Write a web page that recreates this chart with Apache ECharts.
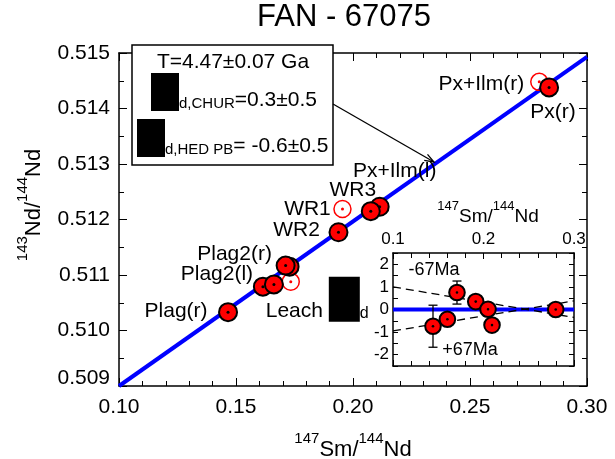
<!DOCTYPE html>
<html><head><meta charset="utf-8">
<script src="https://cdn.jsdelivr.net/npm/echarts@6/dist/echarts.min.js"></script>
<style>html,body{margin:0;padding:0;background:#fff}#c{width:615px;height:459px}</style>
</head><body><div id="c"></div>
<script>
// ---------------- data ----------------
const titleText = 'FAN - 67075';
// isochron (main panel)
const isoX = [0.10, 0.30];
const isoY = [0.509, 0.51493];
// filled (regression) points, drawn in this order
const filledLabels = ['Px(r)', 'Px+Ilm(l)', 'WR3', 'WR2', '', 'Plag2(r)', 'Plag2(l)', '', 'Plag(r)'];
const filledX = [0.2838, 0.2114, 0.2076, 0.1938, 0.1729, 0.1712, 0.1615, 0.1662, 0.1466];
const filledY = [0.51438, 0.51223, 0.51215, 0.51177, 0.51115, 0.51117, 0.51079, 0.51083, 0.51033];
// open (excluded) points
const openLabels = ['Px+Ilm(r)', 'WR1', 'Leach'];
const openX = [0.2796, 0.1955, 0.1734];
const openY = [0.51448, 0.51219, 0.51088];
// main axis ticks
const mainXTicks = [0.10, 0.15, 0.20, 0.25, 0.30];
const mainYTicks = [0.509, 0.510, 0.511, 0.512, 0.513, 0.514, 0.515];
// annotation text
const ageText = 'T=4.47±0.07 Ga';
const epsChurText = '=0.3±0.5';
const epsHedText = '= -0.6±0.5';
// inset: epsilon deviations
const insX = [0.1442, 0.1601, 0.1707, 0.1914, 0.2050, 0.2094, 0.2798];
const insY = [-0.74, -0.43, 0.75, 0.35, 0.01, -0.69, 0.00];
const errX = [0.1442, 0.1707];
const errLo = [-1.67, 0.24];
const errHi = [0.19, 1.26];
const zeroX = [0.1, 0.3];
const zeroY = [0, 0];
const dashX = [0.1, 0.3];
const dashMinusY = [1.0, -0.35];   // -67Ma
const dashPlusY = [-0.95, 0.38];   // +67Ma
const insXTicks = [0.1, 0.2, 0.3];
const insYTicks = [-2, -1, 0, 1, 2];

// ---------------- styles ----------------
const FONT = 'Liberation Sans';
const labelOffset = {
  'Px(r)': [4, 25], 'Px+Ilm(l)': [15, -36], 'WR3': [-18, -21], 'WR2': [-42, -2],
  'Plag2(r)': [-51, -11], 'Plag2(l)': [-46, -12], 'Plag(r)': [-52, -1],
  'Px+Ilm(r)': [-58, 2], 'WR1': [-35, 0]
};

const chart = echarts.init(document.getElementById('c'), null, {renderer: 'canvas'});

function near(a, b) { return Math.abs(a - b) < 1e-7; }

function pointRenderer(r, fill, stroke, lw, dotR, dotColor) {
  return function (params, api) {
    const p = api.coord([api.value(0), api.value(1)]);
    return {type: 'group', children: [
      {type: 'circle', shape: {cx: p[0], cy: p[1], r: r}, style: {fill: fill, stroke: stroke, lineWidth: lw}},
      {type: 'circle', shape: {cx: p[0], cy: p[1], r: dotR}, style: {fill: dotColor}}
    ]};
  };
}

const filledData = filledX.map((x, i) => [x, filledY[i]]);
const openData = openX.map((x, i) => [x, openY[i]]);
const labelData = [];
filledLabels.forEach((t, i) => { if (t) labelData.push([filledX[i], filledY[i], t]); });
openLabels.forEach((t, i) => { if (t) labelData.push([openX[i], openY[i], t]); });

const supRich = (big, small, rise) => ({
  b: {fontSize: big, fontFamily: FONT, color: '#000', verticalAlign: 'bottom', lineHeight: big + rise},
  s: {fontSize: small, fontFamily: FONT, color: '#000', verticalAlign: 'top', lineHeight: small + 1}
});
const ratioText = (a, b, c, d) => '{s|' + a + '}{b|' + b + '}{s|' + c + '}{b|' + d + '}';

const tickLine = {show: true, inside: true, length: 8, lineStyle: {color: '#000', width: 1}};
const minorLine = (n) => ({show: true, splitNumber: n, length: 5, lineStyle: {color: '#000', width: 1}});
const axLine = {show: true, onZero: false, lineStyle: {color: '#000', width: 1.5}};

const option = {
  backgroundColor: '#fff',
  animation: false,
  grid: [
    {left: 119, top: 53, width: 468, height: 333, outerBoundsMode: 'none', containLabel: false},
    {left: 393, top: 253, width: 181, height: 113, outerBoundsMode: 'none', containLabel: false}
  ],
  xAxis: [
    {gridIndex: 0, type: 'value', position: 'bottom', min: mainXTicks[0], max: mainXTicks[mainXTicks.length - 1],
     interval: 0.05, axisLine: axLine, axisTick: tickLine, minorTick: minorLine(5), splitLine: {show: false},
     axisLabel: {show: true, showMinLabel: true, showMaxLabel: true, hideOverlap: false, margin: 11,
       fontSize: 21, fontFamily: FONT, color: '#000', formatter: v => v.toFixed(2)}},
    {gridIndex: 0, type: 'value', position: 'top', min: 0.1, max: 0.3, interval: 0.05,
     axisLine: axLine, axisTick: tickLine, minorTick: minorLine(5), splitLine: {show: false}, axisLabel: {show: false}},
    {gridIndex: 1, type: 'value', position: 'top', min: insXTicks[0], max: insXTicks[insXTicks.length - 1], interval: 0.1,
     axisLine: axLine, axisTick: {show: true, inside: true, length: 6, lineStyle: {color: '#000'}},
     minorTick: {show: true, splitNumber: 5, length: 5, lineStyle: {color: '#000'}}, splitLine: {show: false},
     axisLabel: {show: true, showMinLabel: true, showMaxLabel: true, hideOverlap: false, margin: 5,
       fontSize: 17, fontFamily: FONT, color: '#000', formatter: v => v.toFixed(1)}},
    {gridIndex: 1, type: 'value', position: 'bottom', min: 0.1, max: 0.3, interval: 0.1,
     axisLine: axLine, axisTick: {show: true, inside: true, length: 6, lineStyle: {color: '#000'}},
     minorTick: {show: true, splitNumber: 5, length: 5, lineStyle: {color: '#000'}}, splitLine: {show: false}, axisLabel: {show: false}}
  ],
  yAxis: [
    {gridIndex: 0, type: 'value', position: 'left', min: mainYTicks[0], max: mainYTicks[mainYTicks.length - 1], interval: 0.001,
     axisLine: axLine, axisTick: tickLine, minorTick: minorLine(2), splitLine: {show: false},
     axisLabel: {show: true, showMinLabel: true, showMaxLabel: true, hideOverlap: false, margin: 9,
       fontSize: 21, fontFamily: FONT, color: '#000',
       formatter: v => near(v, mainYTicks[0]) ? '{lo|' + v.toFixed(3) + '}' : v.toFixed(3),
       rich: {lo: {fontSize: 21, fontFamily: FONT, color: '#000', padding: [0, 0, 16, 0]}}}},
    {gridIndex: 0, type: 'value', position: 'right', min: 0.509, max: 0.515, interval: 0.001,
     axisLine: axLine, axisTick: tickLine, minorTick: minorLine(2), splitLine: {show: false}, axisLabel: {show: false}},
    {gridIndex: 1, type: 'value', position: 'left', min: -2.5, max: 2.5, interval: 0.5,
     axisLine: axLine, axisTick: {show: true, inside: true, length: 5, lineStyle: {color: '#000'}}, splitLine: {show: false},
     axisLabel: {show: true, showMinLabel: true, showMaxLabel: true, hideOverlap: false, margin: 4,
       fontSize: 17, fontFamily: FONT, color: '#000',
       formatter: v => insYTicks.some(t => near(t, v)) ? String(Math.round(v)) : ''}},
    {gridIndex: 1, type: 'value', position: 'right', min: -2.5, max: 2.5, interval: 0.5,
     axisLine: axLine, axisTick: {show: true, inside: true, length: 5, lineStyle: {color: '#000'}}, splitLine: {show: false}, axisLabel: {show: false}}
  ],
  series: [
    {type: 'line', xAxisIndex: 0, yAxisIndex: 0, data: isoX.map((x, i) => [x, isoY[i]]), symbol: 'none',
     lineStyle: {color: '#0000ff', width: 4}, z: 2, silent: true},
    {type: 'custom', xAxisIndex: 0, yAxisIndex: 0, data: openData, encode: {x: 0, y: 1}, z: 3,
     renderItem: pointRenderer(8.5, 'rgba(255,255,255,0)', '#ff0000', 1.5, 1.5, '#ff0000')},
    {type: 'custom', xAxisIndex: 0, yAxisIndex: 0, data: filledData, encode: {x: 0, y: 1}, z: 4,
     renderItem: pointRenderer(9, '#ff0000', '#000', 2, 1.5, '#000')},
    {type: 'custom', xAxisIndex: 0, yAxisIndex: 0, data: labelData, encode: {x: 0, y: 1}, z: 5,
     renderItem: function (params, api) {
       const d = labelData[params.dataIndex];
       const p = api.coord([d[0], d[1]]);
       if (d[2] === 'Leach') {
         return {type: 'text', x: p[0] - 25, y: p[1] - 5, style: {
           text: '{t|Leach }{e|ε}{s|d}', align: 'left', verticalAlign: 'top',
           rich: {
             t: {fontSize: 21, fontFamily: FONT, fill: '#000', color: '#000', verticalAlign: 'bottom', lineHeight: 24},
             e: {fontSize: 21, fontFamily: FONT, color: '#000', backgroundColor: '#000', width: 31, height: 45, lineHeight: 45, verticalAlign: 'bottom'},
             s: {fontSize: 16, fontFamily: FONT, color: '#000', verticalAlign: 'bottom', lineHeight: 16}
           }}};
       }
       const o = labelOffset[d[2]] || [0, 0];
       return {type: 'text', x: p[0] + o[0], y: p[1] + o[1], style: {
         text: d[2], fontSize: 21, fontFamily: FONT, fill: '#000', align: 'center', verticalAlign: 'middle'}};
     }},
    // inset
    {type: 'line', xAxisIndex: 2, yAxisIndex: 2, data: zeroX.map((x, i) => [x, zeroY[i]]), symbol: 'none',
     lineStyle: {color: '#0000ff', width: 4}, z: 2, silent: true},
    {type: 'line', xAxisIndex: 2, yAxisIndex: 2, data: dashX.map((x, i) => [x, dashMinusY[i]]), symbol: 'none',
     lineStyle: {color: '#000', width: 1.3, type: [8, 5]}, z: 2, silent: true},
    {type: 'line', xAxisIndex: 2, yAxisIndex: 2, data: dashX.map((x, i) => [x, dashPlusY[i]]), symbol: 'none',
     lineStyle: {color: '#000', width: 1.3, type: [8, 5]}, z: 2, silent: true},
    {type: 'custom', xAxisIndex: 2, yAxisIndex: 2, data: errX.map((x, i) => [x, errLo[i], errHi[i]]), encode: {x: 0, y: [1, 2]}, z: 3,
     renderItem: function (params, api) {
       const lo = api.coord([api.value(0), api.value(1)]);
       const hi = api.coord([api.value(0), api.value(2)]);
       const st = {stroke: '#000', lineWidth: 1.3};
       return {type: 'group', children: [
         {type: 'line', shape: {x1: lo[0], y1: lo[1], x2: hi[0], y2: hi[1]}, style: st},
         {type: 'line', shape: {x1: lo[0] - 4.5, y1: lo[1], x2: lo[0] + 4.5, y2: lo[1]}, style: st},
         {type: 'line', shape: {x1: hi[0] - 4.5, y1: hi[1], x2: hi[0] + 4.5, y2: hi[1]}, style: st}
       ]};
     }},
    {type: 'custom', xAxisIndex: 2, yAxisIndex: 2, data: insX.map((x, i) => [x, insY[i]]), encode: {x: 0, y: 1}, z: 4,
     renderItem: pointRenderer(7.8, '#ff0000', '#000', 2, 1.3, '#000')}
  ],
  graphic: [
    {type: 'text', x: 344, y: 17, z: 100, style: {text: titleText, fontSize: 31, fontFamily: FONT, fill: '#000', align: 'center', verticalAlign: 'middle'}},
    // main x name
    {type: 'text', x: 353, y: 446, z: 100, style: {text: ratioText('147', 'Sm/', '144', 'Nd'), align: 'center', verticalAlign: 'middle', rich: supRich(22, 15, 8)}},
    // main y name
    {type: 'text', x: 30, y: 205, rotation: Math.PI / 2, z: 100, style: {text: ratioText('143', 'Nd/', '144', 'Nd'), align: 'center', verticalAlign: 'middle', rich: supRich(22, 15, 8)}},
    // inset x name
    {type: 'text', x: 488, y: 213, z: 100, style: {text: ratioText('147', 'Sm/', '144', 'Nd'), align: 'center', verticalAlign: 'middle', rich: supRich(19, 13, 7)}},
    // inset text
    {type: 'text', x: 434, y: 270, z: 100, style: {text: '-67Ma', fontSize: 18, fontFamily: FONT, fill: '#000', align: 'center', verticalAlign: 'middle'}},
    {type: 'text', x: 470, y: 350, z: 100, style: {text: '+67Ma', fontSize: 18, fontFamily: FONT, fill: '#000', align: 'center', verticalAlign: 'middle'}},
    // annotation box
    {type: 'rect', z: 100, shape: {x: 132, y: 45, width: 201, height: 120}, style: {fill: '#fff', stroke: '#000', lineWidth: 1.5}},
    {type: 'text', z: 101, x: 233, y: 62, style: {text: ageText, fontSize: 21, fontFamily: FONT, fill: '#000', align: 'center', verticalAlign: 'middle'}},
    {type: 'text', z: 101, x: 151, y: 73, style: {text: '{e|ε}{s|d,CHUR}{m|' + epsChurText + '}', align: 'left', verticalAlign: 'top',
      rich: {
        e: {fontSize: 21, fontFamily: FONT, color: '#000', backgroundColor: '#000', width: 28, height: 38, lineHeight: 38, verticalAlign: 'bottom'},
        s: {fontSize: 15, fontFamily: FONT, color: '#000', verticalAlign: 'bottom', lineHeight: 14},
        m: {fontSize: 21, fontFamily: FONT, color: '#000', verticalAlign: 'bottom', lineHeight: 30}
      }}},
    {type: 'text', z: 101, x: 137, y: 119, style: {text: '{e|ε}{s|d,HED PB}{m|' + epsHedText + '}', align: 'left', verticalAlign: 'top',
      rich: {
        e: {fontSize: 21, fontFamily: FONT, color: '#000', backgroundColor: '#000', width: 28, height: 38, lineHeight: 38, verticalAlign: 'bottom'},
        s: {fontSize: 15, fontFamily: FONT, color: '#000', verticalAlign: 'bottom', lineHeight: 14},
        m: {fontSize: 21, fontFamily: FONT, color: '#000', verticalAlign: 'bottom', lineHeight: 30}
      }}},
    // arrow
    {type: 'line', z: 100, shape: {x1: 333, y1: 104, x2: 434, y2: 162}, style: {stroke: '#000', lineWidth: 1.3}},
    {type: 'polyline', z: 100, shape: {points: [[427.5, 154.4], [434, 162], [424.2, 160.3]]}, style: {stroke: '#000', lineWidth: 1.3, fill: null}}
  ]
};
chart.setOption(option);
</script>
</body></html>
